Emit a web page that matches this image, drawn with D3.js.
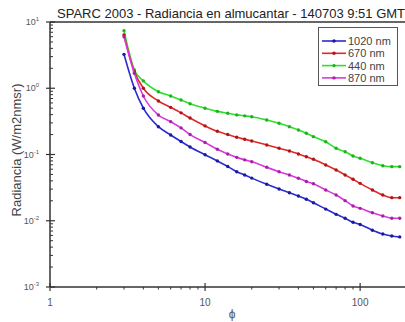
<!DOCTYPE html>
<html>
<head>
<meta charset="utf-8">
<script src="https://cdn.jsdelivr.net/npm/d3@7"></script>
<style>
  html, body { margin: 0; padding: 0; background: #fff; }
  svg { display: block; font-family: "Liberation Sans", Arial, sans-serif; }
</style>
</head>
<body>
<div id="chart"></div>
<script>
// scattering angles (deg)
const phi = [3, 3.5, 4, 5, 6, 7, 8, 10, 12, 14, 16, 18, 20, 25, 30, 35, 40, 45, 50, 60, 70, 80, 90, 100, 120, 140, 160, 180];

const rad1020 = [3.25, 1.0, 0.5, 0.263, 0.197, 0.157, 0.13, 0.099, 0.080, 0.066, 0.055, 0.049, 0.044, 0.0355, 0.0302, 0.0265, 0.0236, 0.0211, 0.0187, 0.0150, 0.0125, 0.0109, 0.0095, 0.0088, 0.0072, 0.0063, 0.0059, 0.0057];
const rad670 = [6.4, 1.78, 1.0, 0.642, 0.515, 0.425, 0.355, 0.27, 0.224, 0.2, 0.182, 0.17, 0.160, 0.139, 0.124, 0.113, 0.102, 0.0927, 0.0847, 0.0695, 0.0583, 0.0491, 0.0422, 0.0367, 0.0291, 0.0245, 0.0223, 0.0223];
const rad440 = [7.4, 1.89, 1.29, 0.887, 0.764, 0.665, 0.585, 0.50, 0.448, 0.419, 0.396, 0.383, 0.372, 0.332, 0.296, 0.263, 0.234, 0.209, 0.186, 0.156, 0.124, 0.110, 0.095, 0.0877, 0.0752, 0.0678, 0.0655, 0.0655];
const rad870 = [6.0, 1.68, 0.764, 0.394, 0.313, 0.252, 0.2, 0.152, 0.12, 0.102, 0.0905, 0.083, 0.0778, 0.0641, 0.0550, 0.0491, 0.0437, 0.0392, 0.0362, 0.0291, 0.0245, 0.0201, 0.0167, 0.0154, 0.0132, 0.0118, 0.0109, 0.0109];

const seriesNames = ['1020 nm', '670 nm', '440 nm', '870 nm'];
const seriesColors = ['#2a2ad0', '#e02828', '#2ee02e', '#d83ad8'];
const markerColors = ['#1a1aa0', '#b01515', '#20b020', '#a820a8'];
const yTickExp = [1, 0, -1, -2, -3];
const xTickLabels = [1, 10, 100];

const width = 405, height = 322;
const margin = { top: 22, right: 2, bottom: 35, left: 50 };

const svg = d3.select('#chart').append('svg')
  .attr('width', width)
  .attr('height', height);

const x = d3.scaleLog().domain([1, 189]).range([margin.left, width - margin.right]);
const y = d3.scaleLog().domain([1e-3, 10]).range([height - margin.bottom, margin.top]);

// title
svg.append('text')
  .attr('x', 57)
  .attr('y', 18)
  .attr('font-size', 13)
  .attr('fill', '#222')
  .text('SPARC 2003 - Radiancia en almucantar - 140703 9:51 GMT');

// frame lines
svg.append('line')
  .attr('x1', margin.left).attr('x2', width)
  .attr('y1', margin.top).attr('y2', margin.top)
  .attr('stroke', '#333').attr('stroke-width', 1.5);

const axisColor = '#333';

// y axis
const gy = svg.append('g');
gy.append('line')
  .attr('x1', margin.left).attr('x2', margin.left)
  .attr('y1', margin.top).attr('y2', height - margin.bottom)
  .attr('stroke', axisColor).attr('stroke-width', 1.5);

const yMinor = [];
for (let e = -3; e < 1; e++) {
  for (let m = 2; m <= 9; m++) yMinor.push(m * Math.pow(10, e));
}
gy.selectAll('.ymin').data(yMinor).enter().append('line')
  .attr('x1', margin.left).attr('x2', margin.left + 3)
  .attr('y1', d => y(d)).attr('y2', d => y(d))
  .attr('stroke', axisColor).attr('stroke-width', 1);

gy.selectAll('.ymaj').data(yTickExp).enter().append('line')
  .attr('x1', margin.left - 4).attr('x2', margin.left + 5)
  .attr('y1', d => y(Math.pow(10, d))).attr('y2', d => y(Math.pow(10, d)))
  .attr('stroke', axisColor).attr('stroke-width', 1.2);

const yLab = gy.selectAll('.ylab').data(yTickExp).enter().append('text')
  .attr('x', 39)
  .attr('y', d => y(Math.pow(10, d)) + 3)
  .attr('text-anchor', 'end')
  .attr('font-size', 9)
  .attr('fill', '#555');
yLab.append('tspan').text('10');
yLab.append('tspan')
  .attr('font-size', 6)
  .attr('dy', -4)
  .text(d => d);

svg.append('text')
  .attr('transform', `translate(21,150) rotate(-90)`)
  .attr('text-anchor', 'middle')
  .attr('font-size', 13)
  .attr('fill', '#444')
  .text('Radiancia (W/m2nmsr)');

// x axis
const gx = svg.append('g');
const yBase = height - margin.bottom;
gx.append('line')
  .attr('x1', margin.left).attr('x2', width)
  .attr('y1', yBase).attr('y2', yBase)
  .attr('stroke', axisColor).attr('stroke-width', 1.5);

const xMinor = [];
for (let e = 0; e < 3; e++) {
  for (let m = 2; m <= 9; m++) {
    const v = m * Math.pow(10, e);
    if (v <= 189) xMinor.push(v);
  }
}
gx.selectAll('.xmin').data(xMinor).enter().append('line')
  .attr('x1', d => x(d)).attr('x2', d => x(d))
  .attr('y1', yBase).attr('y2', yBase + 2.5)
  .attr('stroke', axisColor).attr('stroke-width', 1);

gx.selectAll('.xmaj').data(xTickLabels).enter().append('line')
  .attr('x1', d => x(d)).attr('x2', d => x(d))
  .attr('y1', yBase - 4).attr('y2', yBase + 4)
  .attr('stroke', axisColor).attr('stroke-width', 1.2);

gx.selectAll('.xlab').data(xTickLabels).enter().append('text')
  .attr('x', d => x(d))
  .attr('y', 306)
  .attr('text-anchor', 'middle')
  .attr('font-size', 10)
  .attr('fill', '#555')
  .text(d => d);

svg.append('text')
  .attr('x', x(10) + 27)
  .attr('y', 318)
  .attr('text-anchor', 'middle')
  .attr('font-size', 12)
  .attr('fill', '#555')
  .text('\u03D5');

// series
const series = [rad1020, rad670, rad440, rad870];
const line = d3.line()
  .x(d => x(d[0]))
  .y(d => y(d[1]))
  .curve(d3.curveMonotoneX);

// draw order: green behind
const order = [2, 1, 3, 0];
order.forEach(i => {
  const pts = phi.map((p, k) => [p, series[i][k]]);
  svg.append('path')
    .datum(pts)
    .attr('fill', 'none')
    .attr('stroke', seriesColors[i])
    .attr('stroke-width', 1.6)
    .attr('d', line);
  svg.selectAll(null).data(pts).enter().append('circle')
    .attr('cx', d => x(d[0]))
    .attr('cy', d => y(d[1]))
    .attr('r', 1.7)
    .attr('fill', markerColors[i]);
});

// legend
const lg = svg.append('g');
lg.append('rect')
  .attr('x', 318.5).attr('y', 27.5)
  .attr('width', 79).attr('height', 58)
  .attr('fill', '#fff')
  .attr('stroke', '#555').attr('stroke-width', 1);
seriesNames.forEach((name, i) => {
  const ly = 41 + i * 12.3;
  lg.append('line')
    .attr('x1', 322).attr('x2', 346)
    .attr('y1', ly).attr('y2', ly)
    .attr('stroke', seriesColors[i]).attr('stroke-width', 1.6);
  lg.append('circle')
    .attr('cx', 334).attr('cy', ly).attr('r', 1.7)
    .attr('fill', markerColors[i]);
  lg.append('text')
    .attr('x', 348).attr('y', ly + 4)
    .attr('font-size', 11)
    .attr('fill', '#444')
    .text(name);
});
</script>
</body>
</html>
